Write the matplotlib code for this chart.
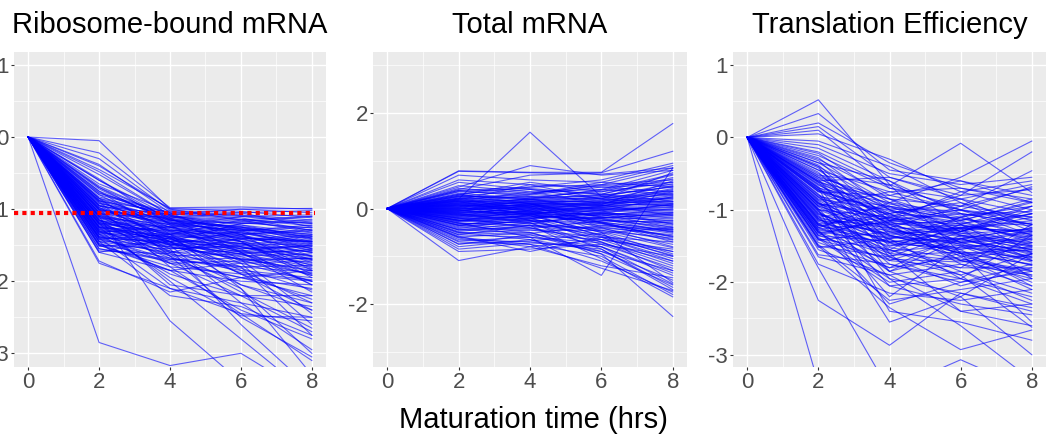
import numpy as np
import matplotlib
matplotlib.use("Agg")
import matplotlib.pyplot as plt
from matplotlib.ticker import FixedLocator

plt.rcParams['font.family'] = ['Liberation Sans', 'DejaVu Sans']
plt.rcParams['axes.unicode_minus'] = False

times = [0, 2, 4, 6, 8]
titles = ["Ribosome-bound mRNA", "Total mRNA", "Translation Efficiency"]
xlabel = "Maturation time (hrs)"
threshold = -1.055

# values at t = 2, 4, 6, 8 (all series start at 0 at t = 0)
ribo = [
    [-0.05, -1.00, -1.00, -0.99], [-0.22, -0.98, -0.97, -1.00], [-0.30, -1.02, -1.05, -1.02],
    [-0.38, -1.05, -1.10, -1.08], [-0.45, -0.99, -1.03, -1.12], [-0.52, -1.08, -1.00, -1.05],
    [-0.60, -1.10, -1.15, -1.20], [-0.65, -1.03, -1.08, -1.15], [-0.70, -1.12, -1.05, -1.25],
    [-0.75, -1.15, -1.20, -1.18], [-0.80, -1.06, -1.12, -1.30], [-0.85, -1.20, -1.18, -1.10],
    [-0.88, -1.18, -1.25, -1.35], [-0.92, -1.10, -1.30, -1.22], [-0.95, -1.25, -1.22, -1.40],
    [-1.00, -1.30, -1.35, -1.28], [-1.02, -1.22, -1.40, -1.45], [-1.05, -1.35, -1.32, -1.50],
    [-1.08, -1.28, -1.45, -1.38], [-1.10, -1.40, -1.38, -1.55], [-1.12, -1.33, -1.50, -1.48],
    [-1.15, -1.45, -1.42, -1.60], [-1.18, -1.38, -1.55, -1.52], [-1.20, -1.50, -1.48, -1.65],
    [-1.22, -1.42, -1.60, -1.58], [-1.25, -1.55, -1.52, -1.70], [-1.28, -1.48, -1.65, -1.62],
    [-1.30, -1.60, -1.58, -1.75], [-1.32, -1.52, -1.70, -1.68], [-1.35, -1.65, -1.62, -1.80],
    [-1.38, -1.58, -1.75, -1.72], [-1.40, -1.70, -1.68, -1.85], [-1.42, -1.62, -1.80, -1.78],
    [-1.45, -1.75, -1.72, -1.90], [-1.48, -1.68, -1.85, -1.95], [-1.50, -1.80, -1.90, -2.00],
    [-1.55, -1.72, -1.95, -2.10], [-1.60, -1.85, -2.00, -2.05], [-1.72, -2.15, -1.95, -2.20],
    [-1.75, -2.10, -2.30, -2.50], [-0.95, -1.45, -1.90, -2.25], [-1.05, -1.60, -2.05, -2.40],
    [-1.15, -1.75, -2.20, -2.70], [-0.85, -1.50, -2.30, -2.95], [-1.00, -1.80, -2.45, -3.10],
    [-0.75, -1.35, -2.10, -3.30], [-1.10, -1.55, -2.60, -3.50], [-1.25, -2.00, -2.80, -3.60],
    [-0.90, -1.65, -2.50, -3.05], [-1.35, -1.90, -2.20, -2.35], [-1.20, -2.05, -2.20, -2.20],
    [-1.30, -1.95, -2.48, -2.50], [-1.40, -2.10, -2.45, -2.55], [-1.50, -1.85, -2.40, -2.80],
    [-1.45, -2.20, -2.35, -2.75], [-2.85, -3.17, -3.00, -3.60], [-1.10, -2.55, -3.40, -3.80],
    [-1.20, -1.65, -2.10, -3.00], [-1.05, -1.45, -1.80, -2.75], [-0.98, -1.38, -1.75, -2.60],
    [-1.15, -1.50, -1.70, -2.45], [-1.25, -1.40, -1.85, -2.30], [-0.80, -1.30, -1.55, -2.05],
    [-0.70, -1.20, -1.45, -1.95], [-0.60, -1.15, -1.35, -1.85], [-0.90, -1.25, -1.40, -1.70],
    [-1.00, -1.20, -1.30, -1.55], [-1.10, -1.30, -1.25, -1.40], [-1.20, -1.25, -1.35, -1.30],
    [-1.30, -1.35, -1.45, -1.60], [-1.40, -1.45, -1.55, -1.50], [-1.50, -1.55, -1.50, -1.65],
    [-1.45, -1.60, -1.40, -1.45], [-1.35, -1.50, -1.30, -1.25], [-1.25, -1.45, -1.20, -1.15],
    [-1.15, -1.35, -1.15, -1.10], [-1.05, -1.25, -1.10, -1.20], [-0.95, -1.15, -1.25, -1.45],
    [-0.85, -1.08, -1.35, -1.65], [-0.78, -1.05, -1.45, -1.90], [-0.68, -1.12, -1.60, -2.15],
    [-0.58, -1.22, -1.70, -2.00], [-0.48, -1.08, -1.28, -1.42], [-0.40, -1.00, -1.15, -1.32],
    [-1.55, -1.70, -1.80, -1.88], [-1.48, -1.85, -1.75, -2.00], [-1.38, -1.75, -1.95, -1.85],
    [-1.28, -1.68, -1.82, -2.12], [-1.18, -1.58, -1.88, -1.98], [-1.08, -1.48, -1.62, -1.92],
    [-0.98, -1.40, -1.52, -1.78], [-0.88, -1.32, -1.48, -1.60], [-1.32, -1.25, -1.60, -2.05],
    [-1.42, -1.35, -1.72, -1.68], [-1.52, -1.45, -2.05, -2.30], [-1.60, -1.40, -1.90, -2.40],
    [-1.58, -1.62, -2.15, -2.65],
    [-0.92, -1.15, -1.28, -1.38], [-0.98, -1.22, -1.33, -1.48], [-1.04, -1.18, -1.42, -1.36],
    [-1.09, -1.27, -1.37, -1.58], [-1.13, -1.36, -1.48, -1.44], [-1.17, -1.24, -1.52, -1.66],
    [-1.21, -1.31, -1.44, -1.74], [-1.24, -1.39, -1.58, -1.50], [-1.27, -1.44, -1.47, -1.82],
    [-1.31, -1.49, -1.62, -1.56], [-1.34, -1.41, -1.53, -1.69], [-1.37, -1.53, -1.66, -1.92],
    [-1.02, -1.13, -1.19, -1.26], [-0.96, -1.07, -1.14, -1.23], [-0.89, -1.04, -1.09, -1.18],
    [-0.83, -1.09, -1.22, -1.33], [-0.77, -1.13, -1.27, -1.41], [-0.72, -1.17, -1.33, -1.52],
    [-1.12, -1.21, -1.29, -1.47], [-1.19, -1.34, -1.27, -1.35], [-1.26, -1.29, -1.41, -1.43],
    [-1.33, -1.38, -1.36, -1.54], [-1.39, -1.47, -1.59, -1.77], [-1.44, -1.52, -1.69, -1.86],
    [-1.07, -1.11, -1.17, -1.29], [-1.01, -1.16, -1.24, -1.37], [-0.94, -1.19, -1.31, -1.46],
    [-0.87, -1.14, -1.38, -1.57], [-1.16, -1.42, -1.57, -1.71], [-1.23, -1.46, -1.63, -1.83],
]

total = [
    [0.79, 0.76, 0.76, 1.78], [0.78, 0.75, 0.72, 0.85], [0.70, 0.60, 0.55, 0.90],
    [0.20, 1.60, 0.25, 0.10], [0.45, 0.90, 0.70, 0.80], [0.40, 0.70, 0.75, 1.20],
    [-0.30, -0.60, -1.40, 0.85], [-1.09, -0.80, -0.65, -0.90], [-0.75, -0.55, -0.95, -2.26],
    [0.30, 0.45, 0.50, 0.60], [0.35, 0.30, 0.55, 0.45], [0.25, 0.40, 0.20, 0.75],
    [0.20, 0.25, 0.35, 0.55], [0.15, 0.35, 0.10, 0.40], [0.10, 0.20, 0.30, 0.65],
    [0.05, 0.15, 0.25, 0.30], [0.00, 0.10, 0.05, 0.35], [-0.05, 0.05, 0.15, 0.20],
    [-0.10, 0.00, -0.05, 0.25], [0.12, 0.05, -0.10, 0.10], [0.08, -0.05, 0.00, -0.05],
    [0.02, -0.10, -0.15, 0.00], [-0.02, -0.15, -0.20, -0.10], [-0.08, -0.05, -0.25, -0.30],
    [-0.12, -0.20, -0.10, -0.15], [-0.15, -0.25, -0.35, -0.45], [-0.20, -0.10, -0.30, -0.60],
    [-0.25, -0.30, -0.45, -0.75], [-0.30, -0.35, -0.40, -0.55], [-0.35, -0.20, -0.55, -0.90],
    [-0.40, -0.45, -0.60, -1.05], [-0.45, -0.40, -0.70, -1.20], [-0.50, -0.55, -0.65, -0.85],
    [-0.55, -0.60, -0.80, -1.35], [-0.60, -0.50, -0.90, -1.50], [-0.65, -0.70, -0.85, -1.65],
    [-0.70, -0.75, -1.00, -1.80], [-0.50, -0.65, -1.10, -1.75], [-0.35, -0.50, -0.95, -1.60],
    [-0.20, -0.40, -0.80, -1.40], [-0.10, -0.30, -0.75, -1.25], [0.05, -0.25, -0.60, -1.10],
    [0.15, -0.15, -0.50, -0.95], [0.22, -0.05, -0.40, -0.80], [0.30, 0.10, -0.30, -0.70],
    [-0.25, -0.15, -0.50, -1.55], [-0.45, -0.30, -0.85, -1.70], [-0.55, -0.35, -1.05, -1.85],
    [-0.62, -0.80, -1.20, -1.45], [-0.80, -0.65, -0.90, -1.30], [-0.90, -0.85, -0.75, -1.00],
    [-0.58, -0.90, -0.60, -0.70], [0.18, 0.50, 0.45, 0.35], [0.28, 0.55, 0.35, 0.70],
    [0.38, 0.45, 0.60, 0.95], [0.48, 0.35, 0.40, 0.30], [0.55, 0.40, 0.30, 0.15],
    [0.60, 0.50, 0.20, 0.05], [0.32, 0.20, 0.40, 0.80], [0.22, 0.30, 0.50, 0.85],
    [0.12, 0.28, 0.45, 0.50], [0.02, 0.22, 0.38, 0.72], [-0.06, 0.18, 0.28, 0.45],
    [-0.16, 0.08, 0.22, 0.38], [-0.26, -0.02, 0.12, 0.15], [-0.36, -0.12, 0.02, -0.02],
    [-0.42, -0.22, -0.08, -0.20], [-0.32, -0.28, -0.18, -0.35], [-0.22, -0.18, -0.12, -0.40],
    [-0.12, -0.08, -0.22, -0.50], [-0.02, 0.02, -0.28, -0.65], [0.08, 0.12, -0.18, -0.25],
    [0.18, 0.15, 0.08, -0.15], [0.28, 0.18, 0.12, 0.05], [0.38, 0.25, 0.18, 0.22],
    [0.10, -0.02, 0.08, 0.58], [0.00, 0.08, 0.18, 0.48], [-0.04, -0.12, 0.05, 0.12],
    [-0.14, -0.22, -0.02, 0.02], [-0.24, -0.32, -0.12, -0.08], [-0.34, -0.42, -0.26, -0.28],
    [-0.44, -0.52, -0.36, -0.48], [-0.52, -0.45, -0.46, -0.62], [-0.48, -0.35, -0.55, -1.00],
    [-0.38, -0.25, -0.65, -1.15], [-0.28, -0.20, -0.70, -1.30], [-0.18, -0.10, -0.58, -0.98],
    [-0.08, 0.00, -0.48, -0.82], [0.06, 0.06, -0.38, -0.58], [0.16, 0.10, -0.20, -0.42],
    [0.26, 0.20, -0.05, -0.32], [0.36, 0.42, 0.30, 0.62], [0.42, 0.32, 0.48, 0.55],
    [-0.68, -0.60, -0.72, -1.10], [-0.74, -0.68, -0.52, -0.40], [-0.85, -0.72, -0.80, -1.58],
    [-0.60, -0.75, -1.25, -1.72],
    [0.03, 0.07, 0.02, 0.18], [-0.03, 0.03, 0.09, 0.27], [0.07, -0.03, -0.07, 0.08],
    [-0.07, -0.09, -0.04, -0.12], [0.11, 0.09, 0.11, 0.32], [-0.11, -0.06, -0.14, -0.22],
    [0.14, 0.13, 0.06, 0.24], [-0.14, -0.13, -0.09, -0.33], [0.17, 0.02, -0.02, -0.08],
    [-0.17, -0.04, 0.04, 0.06], [0.21, 0.16, 0.14, 0.42], [-0.21, -0.16, -0.21, -0.44],
    [0.24, 0.11, 0.24, 0.52], [-0.24, -0.24, -0.31, -0.52], [0.01, -0.07, -0.11, -0.18],
    [-0.01, 0.04, -0.01, -0.03], [0.04, 0.14, 0.16, 0.36], [-0.04, -0.18, -0.24, -0.38],
    [0.09, 0.03, 0.13, 0.14], [-0.09, 0.01, -0.17, -0.26], [0.13, 0.19, 0.21, 0.28],
    [-0.13, -0.11, -0.32, -0.58], [0.19, 0.07, 0.01, 0.03], [-0.19, -0.27, -0.19, -0.12],
    [-0.27, -0.13, -0.28, -0.48], [0.26, 0.23, 0.27, 0.46], [-0.31, -0.37, -0.42, -0.66],
    [0.07, -0.13, -0.29, -0.45], [-0.06, 0.11, 0.07, 0.09], [0.16, -0.08, 0.06, 0.22],
]

te = [
    [0.52, -0.65, -1.00, -1.20], [0.33, -0.45, -0.60, -0.80], [0.20, -0.35, -0.70, -0.90],
    [0.15, -0.55, -0.85, -1.05], [0.10, -0.70, -0.95, -0.70], [-0.20, -0.67, -0.08, -0.76],
    [-0.35, -0.90, -0.55, -0.05], [-0.45, -1.10, -0.80, -0.20], [-0.55, -0.85, -0.95, -0.46],
    [-3.40, -3.80, -3.90, -4.00], [-2.25, -2.87, -2.15, -2.35], [-1.50, -2.35, -2.93, -2.66],
    [-1.80, -3.50, -3.07, -3.50], [-1.30, -1.95, -2.60, -3.35], [-1.00, -1.35, -1.60, -2.55],
    [-1.20, -1.55, -1.90, -2.62], [-0.90, -1.75, -1.95, -2.20], [-1.40, -2.05, -2.30, -2.45],
    [-1.75, -2.15, -2.25, -2.10], [-1.65, -1.90, -2.40, -2.30], [-0.30, -0.80, -1.00, -1.10],
    [-0.40, -0.95, -1.10, -0.95], [-0.50, -1.00, -1.25, -1.30], [-0.60, -1.05, -0.90, -1.15],
    [-0.65, -1.20, -1.15, -1.45], [-0.70, -0.90, -1.30, -1.00], [-0.75, -1.15, -1.05, -1.60],
    [-0.80, -1.30, -1.40, -1.25], [-0.85, -1.00, -1.20, -1.70], [-0.90, -1.40, -1.10, -1.35],
    [-0.95, -1.25, -1.50, -1.85], [-1.00, -1.10, -1.35, -1.55], [-1.05, -1.45, -1.30, -1.05],
    [-1.10, -1.35, -1.60, -1.75], [-1.15, -1.20, -1.45, -1.40], [-1.20, -1.50, -1.25, -1.95],
    [-1.25, -1.60, -1.70, -1.50], [-1.30, -1.45, -1.55, -2.05], [-1.35, -1.70, -1.40, -1.65],
    [-1.40, -1.55, -1.80, -1.80], [-1.45, -1.80, -1.65, -2.10], [-1.50, -1.65, -1.90, -1.60],
    [-1.55, -1.90, -1.75, -1.90], [-0.25, -0.70, -0.85, -0.65], [-0.35, -0.60, -1.05, -1.20],
    [-0.45, -0.75, -0.70, -0.85], [-0.55, -1.15, -0.75, -0.60], [-0.62, -0.85, -1.15, -0.90],
    [-0.72, -1.25, -0.95, -1.10], [-0.82, -0.95, -1.35, -1.50], [-0.92, -1.05, -0.85, -1.25],
    [-1.02, -1.60, -1.20, -0.95], [-1.12, -1.25, -1.55, -1.35], [-1.22, -1.05, -1.45, -1.70],
    [-1.32, -1.80, -1.35, -1.45], [-1.42, -1.30, -1.60, -2.00], [-1.52, -1.40, -1.25, -1.15],
    [-1.62, -1.75, -2.00, -1.85], [-0.15, -0.60, -1.20, -1.40], [-0.28, -1.00, -1.45, -1.65],
    [-0.38, -1.25, -1.70, -1.95], [-0.48, -1.45, -1.85, -2.25], [-0.58, -1.65, -2.05, -1.80],
    [-0.68, -1.85, -1.60, -1.55], [-0.78, -1.95, -2.15, -2.40], [-0.88, -1.70, -1.80, -1.20],
    [-0.98, -2.05, -1.95, -2.30], [-1.08, -2.20, -1.50, -1.70], [-1.18, -1.85, -2.20, -1.60],
    [-1.28, -2.30, -2.00, -1.75], [-1.38, -2.00, -1.85, -2.15], [-1.48, -2.25, -2.10, -1.95],
    [-0.10, -0.50, -0.65, -0.55], [-0.05, -0.40, -0.90, -1.30], [0.05, -0.30, -0.75, -1.00],
    [-0.22, -0.85, -1.30, -1.10], [-0.32, -1.15, -1.00, -1.35], [-0.42, -1.35, -1.25, -1.05],
    [-0.52, -0.65, -1.60, -1.90], [-0.62, -1.50, -1.40, -1.25], [-0.72, -1.05, -1.65, -1.45],
    [-0.82, -1.55, -1.10, -0.85], [-0.92, -1.20, -1.75, -2.05], [-1.02, -1.85, -1.40, -1.60],
    [-1.12, -1.65, -1.30, -1.50], [-1.22, -1.40, -1.95, -1.35], [-1.32, -1.15, -1.70, -1.85],
    [-0.60, -0.55, -0.80, -0.72], [-0.75, -0.80, -0.60, -0.90], [-0.95, -0.75, -1.00, -0.68],
    [-1.10, -0.95, -1.15, -0.88], [-1.25, -0.90, -1.05, -1.20], [-1.35, -1.10, -1.30, -0.95],
    [-0.40, -1.60, -2.40, -2.60], [-0.70, -2.40, -2.55, -2.80], [-1.00, -2.55, -2.20, -3.00],
    [-0.57, -0.97, -1.13, -1.22], [-0.66, -1.08, -1.22, -1.33], [-0.74, -1.02, -1.17, -1.42],
    [-0.83, -1.18, -1.27, -1.28], [-0.91, -1.12, -1.32, -1.52], [-0.99, -1.27, -1.21, -1.38],
    [-1.07, -1.22, -1.37, -1.62], [-1.14, -1.33, -1.28, -1.47], [-1.21, -1.28, -1.42, -1.58],
    [-1.28, -1.38, -1.47, -1.72], [-1.36, -1.43, -1.52, -1.41], [-0.61, -1.13, -1.36, -1.55],
    [-0.69, -1.19, -1.48, -1.77], [-0.79, -1.24, -1.58, -1.66], [-0.87, -1.36, -1.46, -1.31],
    [-0.96, -1.41, -1.63, -1.92], [-1.04, -1.47, -1.53, -1.57], [-1.13, -1.52, -1.68, -1.83],
    [-1.19, -1.11, -1.26, -1.18], [-1.27, -1.17, -1.33, -1.27], [-0.53, -0.92, -1.07, -1.02],
    [-0.64, -0.99, -1.01, -1.13], [-0.73, -1.07, -1.11, -1.37], [-0.86, -1.16, -1.19, -1.06],
    [-0.94, -1.31, -1.24, -1.49], [-1.06, -1.37, -1.44, -1.29], [-1.16, -1.44, -1.39, -1.68],
    [-1.24, -1.57, -1.49, -1.53], [-1.31, -1.63, -1.58, -1.76], [-1.41, -1.68, -1.72, -1.62],
]

W, H = 1046, 438
fig = plt.figure(figsize=(W / 100, H / 100), dpi=100)
fig.patch.set_facecolor('white')


def ax_at(l, t, r, b):
    return fig.add_axes([l / W, 1 - b / H, (r - l) / W, (b - t) / H])


panels = [
    (ribo, (14, 52, 326, 367), (-3.19, 1.18), [-3, -2, -1, 0, 1], [-3.5, -2.5, -1.5, -0.5, 0.5]),
    (total, (373, 52, 687, 367), (-3.32, 3.28), [-2, 0, 2], [-3, -1, 1, 3]),
    (te, (733, 52, 1046, 367), (-3.17, 1.18), [-3, -2, -1, 0, 1], [-3.5, -2.5, -1.5, -0.5, 0.5]),
]

for i, (data, box, ylim, yt, yminor) in enumerate(panels):
    ax = ax_at(*box)
    ax.set_facecolor('#EBEBEB')
    for s in ax.spines.values():
        s.set_visible(False)
    ax.set_xlim(-0.4, 8.4)
    ax.set_ylim(*ylim)
    ax.set_xticks([0, 2, 4, 6, 8])
    ax.set_yticks(yt)
    ax.xaxis.set_minor_locator(FixedLocator([1, 3, 5, 7]))
    ax.yaxis.set_minor_locator(FixedLocator(yminor))
    ax.set_axisbelow(True)
    ax.grid(which='major', color='white', linewidth=1.0)
    ax.grid(which='minor', color='white', linewidth=0.5)
    ax.tick_params(which='major', length=2.2, width=0.8, color='#333333',
                   labelsize=16, labelcolor='#4D4D4D', pad=1.5)
    ax.tick_params(which='minor', length=0)
    arr = np.array(data)
    Y = np.column_stack([np.zeros(len(arr)), arr])
    ax.plot(times, Y.T, color='#0000FF', alpha=0.6, linewidth=0.8)
    if i == 0:
        ax.plot([-0.4, 8.1], [threshold, threshold], color='#FF0000', linewidth=3.0,
                linestyle=(0, (1, 1)), dash_capstyle='butt', zorder=5)
    ax.set_title(titles[i], fontsize=21, pad=13.5, color='black')

fig.text(533 / W, 1 - 428 / H, xlabel, fontsize=21, ha='center', va='baseline', color='black')

fig.savefig('out.png', dpi=100, facecolor='white')
